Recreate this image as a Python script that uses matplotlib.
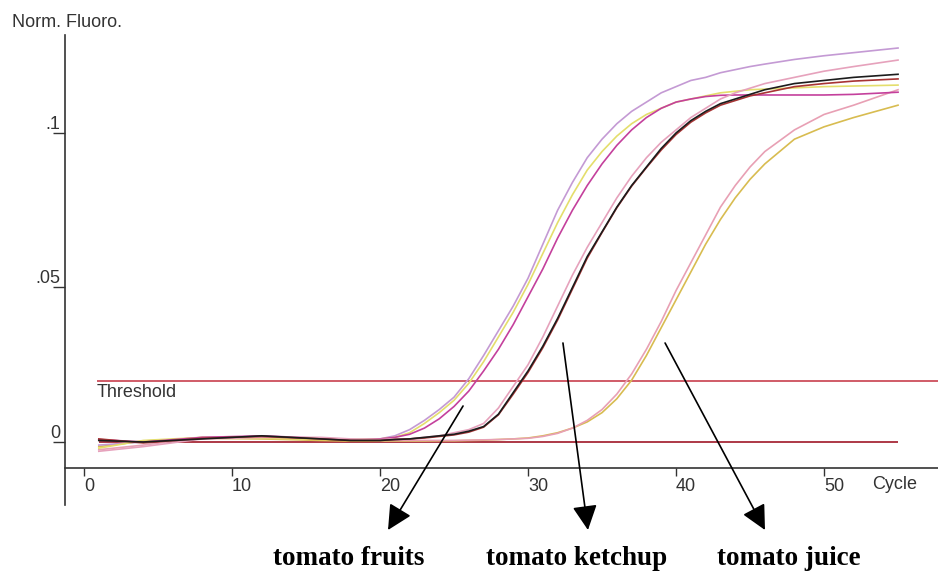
import matplotlib.pyplot as plt

plt.rcParams['font.family'] = ['Liberation Sans', 'DejaVu Sans']

# cycle grid shared by all traces
cycles = [1, 4, 8, 12, 16, 18,
          20, 21, 22, 23, 24, 25, 26, 27, 28, 29,
          30, 31, 32, 33, 34, 35, 36, 37, 38, 39,
          40, 41, 42, 43, 44, 45, 46,
          48, 50, 52, 55]

# tomato fruits
fruit_violet = [-0.001, 0.0, 0.0015, 0.0015, 0.001, 0.0008,
                0.001, 0.002, 0.004, 0.007, 0.0105, 0.0145, 0.0205, 0.028, 0.036, 0.044,
                0.053, 0.064, 0.075, 0.084, 0.092, 0.098, 0.103, 0.107, 0.110, 0.113,
                0.115, 0.117, 0.118, 0.1195, 0.1205, 0.1215, 0.1223,
                0.1238, 0.125, 0.126, 0.1275]
fruit_yellow = [-0.002, 0.0005, 0.0015, 0.0012, 0.0008, 0.0008,
                0.001, 0.0015, 0.003, 0.006, 0.0095, 0.0135, 0.019, 0.026, 0.034, 0.042,
                0.051, 0.061, 0.071, 0.080, 0.088, 0.094, 0.099, 0.103, 0.106, 0.108,
                0.110, 0.111, 0.112, 0.113, 0.1135, 0.114, 0.1142,
                0.1146, 0.115, 0.1152, 0.1155]
fruit_magenta = [0.0008, 0.0, 0.0015, 0.002, 0.0012, 0.0006,
                 0.001, 0.0015, 0.0025, 0.0045, 0.0075, 0.0115, 0.0165, 0.023, 0.030, 0.038,
                 0.047, 0.056, 0.066, 0.075, 0.083, 0.090, 0.096, 0.101, 0.105, 0.108,
                 0.110, 0.111, 0.1118, 0.1122, 0.1123, 0.1123, 0.1123,
                 0.1123, 0.1123, 0.1125, 0.1132]

# tomato ketchup
ketchup_pink = [-0.003, -0.0015, 0.001, 0.0015, 0.0015, 0.001,
                0.0008, 0.001, 0.001, 0.0015, 0.002, 0.003, 0.004, 0.006, 0.011, 0.018,
                0.025, 0.034, 0.044, 0.054, 0.063, 0.071, 0.079, 0.086, 0.092, 0.097,
                0.101, 0.105, 0.108, 0.111, 0.113, 0.1145, 0.116,
                0.118, 0.120, 0.1215, 0.1236]
ketchup_black = [0.0005, 0.0, 0.001, 0.002, 0.001, 0.0005,
                 0.0005, 0.0008, 0.001, 0.0015, 0.002, 0.0025, 0.0035, 0.005, 0.009, 0.016,
                 0.023, 0.031, 0.040, 0.050, 0.060, 0.068, 0.076, 0.083, 0.089, 0.095,
                 0.100, 0.104, 0.107, 0.1095, 0.111, 0.1125, 0.114,
                 0.116, 0.117, 0.118, 0.119]
ketchup_red = [0.001, -0.0003, 0.0012, 0.0018, 0.001, 0.0005,
               0.0005, 0.0008, 0.001, 0.0013, 0.0018, 0.0023, 0.0032, 0.0048, 0.0088, 0.0155,
               0.0225, 0.0305, 0.0395, 0.0495, 0.0595, 0.0678, 0.0758, 0.0828, 0.0888, 0.0945,
               0.0995, 0.1035, 0.1065, 0.109, 0.1105, 0.112, 0.113,
               0.115, 0.116, 0.1168, 0.1175]

# tomato juice
juice_pink = [-0.0025, -0.001, 0.0015, 0.0012, 0.0012, 0.0008,
              0.0005, 0.0005, 0.0005, 0.0005, 0.0005, 0.0005, 0.0006, 0.0007, 0.0008, 0.001,
              0.0012, 0.0018, 0.0028, 0.0045, 0.007, 0.0105, 0.0155, 0.022, 0.030, 0.039,
              0.049, 0.058, 0.067, 0.076, 0.083, 0.089, 0.094,
              0.101, 0.106, 0.109, 0.114]
juice_yellow = [-0.0015, 0.0003, 0.0012, 0.001, 0.0005, 0.0003,
                0.0003, 0.0003, 0.0003, 0.0003, 0.0004, 0.0004, 0.0005, 0.0006, 0.0008, 0.001,
                0.0013, 0.002, 0.003, 0.0045, 0.0065, 0.0095, 0.014, 0.020, 0.028, 0.037,
                0.046, 0.055, 0.064, 0.072, 0.079, 0.085, 0.090,
                0.098, 0.102, 0.105, 0.109]

threshold = 0.0197
xticks = [0, 10, 20, 30, 40, 50]
yticks = [0, 0.05, 0.1]
ytick_labels = ['0', '.05', '.1']

fig = plt.figure(figsize=(9.38, 5.72), dpi=100)
ax = fig.add_axes([0, 0, 1, 1])
ax.set_xlim(-5.676, 57.70)
ax.set_ylim(-0.04207, 0.14304)

ax.hlines(0, 1, 55, color='#a01828', lw=1.2)
ax.hlines(threshold, 0.9, 57.7, color='#c8404e', lw=1.2)

traces = [
    (juice_yellow, '#d8bc50'),
    (juice_pink, '#e8a0b4'),
    (fruit_violet, '#c49ad4'),
    (fruit_yellow, '#e4de6c'),
    (fruit_magenta, '#c4409c'),
    (ketchup_pink, '#e6a2bc'),
    (ketchup_red, '#a83434'),
    (ketchup_black, '#1c1c1c'),
]
for vals, col in traces:
    ax.plot(cycles, vals, color=col, lw=1.2)

# axes
for s in ['top', 'right']:
    ax.spines[s].set_visible(False)
ax.spines['left'].set_position(('data', -1.284))
ax.spines['left'].set_bounds(-0.0204, 0.1317)
ax.spines['bottom'].set_position(('data', -0.00841))
ax.spines['bottom'].set_bounds(-1.284, 57.7)
for s in ['left', 'bottom']:
    ax.spines[s].set_color('#333333')
    ax.spines[s].set_linewidth(1.2)

ax.set_xticks(xticks)
ax.set_yticks(yticks, labels=ytick_labels)
ax.tick_params(axis='x', direction='out', length=6, width=1, color='#333333',
               labelsize=13, labelcolor='#333333', pad=1)
ax.tick_params(axis='y', direction='out', length=8.5, width=1, color='#333333',
               labelsize=13, labelcolor='#333333', pad=-5)
for lab in ax.get_xticklabels():
    lab.set_ha('left')
for lab in ax.get_yticklabels():
    lab.set_va('bottom')

ax.text(-4.86, 0.1359, 'Norm. Fluoro.', fontsize=13, color='#333333', va='center')
ax.text(53.24, -0.0139, 'Cycle', fontsize=13, color='#333333', va='center')
ax.text(0.88, 0.0159, 'Threshold', fontsize=13, color='#333333', va='center')

# sample annotations
arrow = dict(arrowstyle='-|>,head_length=0.8,head_width=0.4', color='black',
             lw=1.2, shrinkA=0, shrinkB=0, mutation_scale=19)
ax.annotate('', xy=(20.54, -0.02848), xytext=(25.61, 0.01165), arrowprops=arrow)
ax.annotate('', xy=(34.05, -0.02848), xytext=(32.36, 0.03204), arrowprops=arrow)
ax.annotate('', xy=(46.01, -0.02848), xytext=(39.26, 0.03204), arrowprops=arrow)

serif = dict(family=['Liberation Serif', 'DejaVu Serif'], fontsize=19.5,
             fontweight='bold', ha='center', va='baseline')
ax.text(17.9, -0.0398, 'tomato fruits', **serif)
ax.text(33.3, -0.0398, 'tomato ketchup', **serif)
ax.text(47.6, -0.0398, 'tomato juice', **serif)

fig.savefig('out.png', dpi=100)
